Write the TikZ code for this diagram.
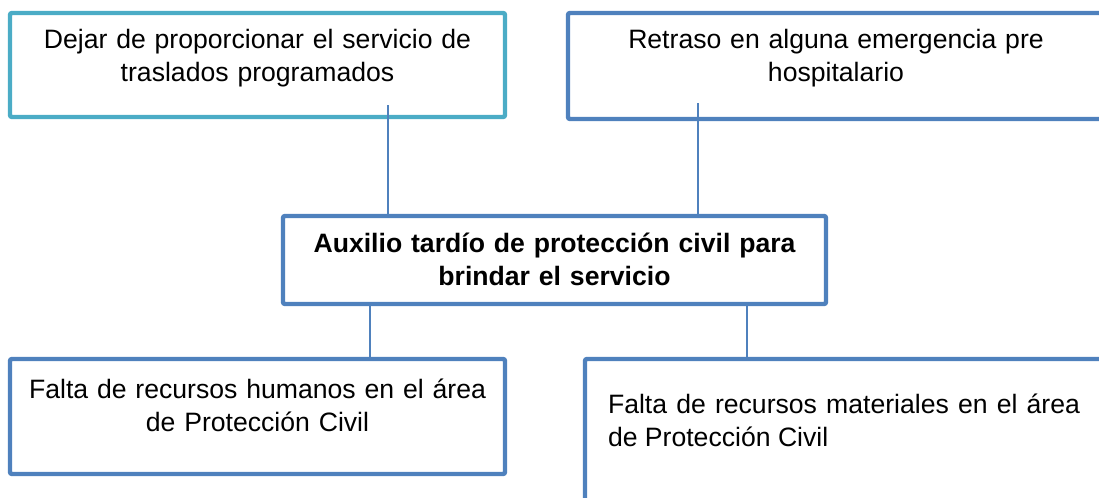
\documentclass[tikz,border=0pt]{standalone}
\usepackage{fontspec}
\setmainfont{Liberation Sans}
\usepackage{tikz}
\hyphenpenalty=10000
\definecolor{cTeal}{HTML}{4BACC6}
\definecolor{cBlue}{HTML}{4F81BD}
\tikzset{
  box/.style={draw=cBlue,line width=2.2pt,rounded corners=1pt,anchor=north west,outer sep=0pt,
    inner xsep=5pt,font=\fontsize{13.3}{16.5}\selectfont,text height=10pt},
  tbox/.style={box,draw=cTeal},
  conn/.style={draw=cBlue,line width=1pt}}
\begin{document}
\begin{tikzpicture}[x=0.5pt,y=-0.5pt]
\useasboundingbox (0,0) rectangle (1099,498);
\node[tbox, text width=237.5pt, align=center, inner ysep=7.5pt, text depth=27pt] (dejar) at (10,13) {Dejar de proporcionar el servicio de\\ traslados programados};
\node[box, text width=258pt, align=center, inner ysep=7.5pt, text depth=28pt] (retraso) at (568,13) {Retraso en alguna emergencia pre\\ hospitalario};
\node[box, text width=261.5pt, align=center, inner ysep=8pt, text depth=18pt, font=\fontsize{13.3}{16.5}\selectfont\bfseries] (auxilio) at (283,216) {Auxilio tardío de protección civil para\\ brindar el servicio};
\node[box, text width=237.5pt, align=center, inner ysep=9.5pt, text depth=28.5pt] (humanos) at (10,359) {Falta de recursos humanos en el área\\ de Protección Civil};
\node[box, text width=236pt, align=justify, inner xsep=11.5pt, inner ysep=17pt, text depth=36.5pt] (materiales) at (585,359) {Falta de recursos materiales en el área de Protección Civil};
% lineas de union
\coordinate (k1) at (388,105);
\coordinate (k2) at (698,103);
\coordinate (k3) at (370,0);
\coordinate (k4) at (747,0);
\draw[conn] (k1) -- (k1 |- auxilio.north);
\draw[conn] (k2) -- (k2 |- auxilio.north);
\draw[conn] (auxilio.south -| k3) -- (humanos.north -| k3);
\draw[conn] (auxilio.south -| k4) -- (materiales.north -| k4);
\end{tikzpicture}
\end{document}
